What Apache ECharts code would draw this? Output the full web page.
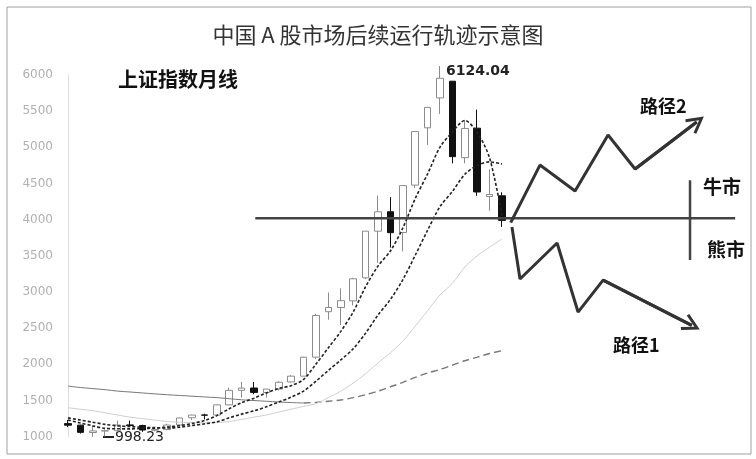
<!DOCTYPE html>
<html><head><meta charset="utf-8">
<script src="https://cdn.jsdelivr.net/npm/echarts@6/dist/echarts.min.js"></script>
<style>html,body{margin:0;padding:0;background:#fff}#c{width:756px;height:459px}</style>
</head><body><div id="c"></div>
<script>
// Monthly candles, Shanghai Composite
const months = ['2005-04','2005-05','2005-06','2005-07','2005-08','2005-09','2005-10','2005-11','2005-12',
  '2006-01','2006-02','2006-03','2006-04','2006-05','2006-06','2006-07','2006-08','2006-09','2006-10','2006-11','2006-12',
  '2007-01','2007-02','2007-03','2007-04','2007-05','2007-06','2007-07','2007-08','2007-09','2007-10','2007-11','2007-12',
  '2008-01','2008-02','2008-03'];
const opens  = [1181,1160,1058,1079,1083,1163,1155,1090,1099,1163,1262,1300,1300,1440,1641,1673,1610,1659,1757,1837,2100,2728,2786,2878,3196,3841,4110,3822,4478,5270,5683,5914,4857,5265,4320,4330];
const closes = [1159,1060,1080,1083,1162,1155,1092,1099,1161,1258,1299,1298,1440,1641,1672,1612,1658,1752,1837,2099,2675,2786,2881,3183,3841,4109,3820,4471,5218,5552,5955,4871,5261,4383,4348,3990];
const lows   = [1132,1043,998.23,1004,1079,1133,1067,1074,1088,1159,1231,1239,1300,1436,1541,1586,1541,1639,1750,1835,2073,2617,2542,2814,3178,3404,3615,3563,4436,5032,5462,4778,4779,4330,4123,3900];
const highs  = [1231,1165,1146,1098,1223,1224,1166,1112,1180,1262,1303,1318,1445,1678,1757,1757,1660,1767,1851,2105,2698,2994,3050,3197,3841,4335,4312,4471,5219,5559,6124.04,5914,5376,5522,4695,4380];

// Moving-average curves
const ma5  = [1230,1190,1150,1115,1110,1108,1114,1118,1134,1153,1182,1223,1291,1387,1470,1533,1605,1667,1706,1792,2004,2230,2456,2725,3073,3360,3567,3885,4292,4634,5003,5213,5371,5204,4850,4050];
const ma10 = [1260,1230,1200,1170,1150,1140,1130,1125,1120,1131,1155,1177,1205,1261,1312,1357,1414,1479,1547,1631,1768,1917,2061,2216,2432,2682,2898,3170,3508,3854,4182,4390,4628,4748,4799,4770];
const ma20 = [1400,1380,1360,1330,1300,1270,1250,1230,1210,1200,1195,1190,1195,1210,1240,1270,1300,1340,1380,1420,1457,1540,1630,1740,1872,2020,2160,2320,2528,2742,2960,3120,3345,3500,3620,3734];
const ma60Old = [1700,1680,1665,1650,1630,1618,1605,1592,1580,1570,1560,1550,1540,1525,1510,1500,1490,1480,1472,1466];
const ma60New = [1466,1475,1490,1507,1540,1580,1630,1690,1750,1820,1880,1930,1990,2050,2100,2150,2190];
const ma60NewStart = 19;

// Schematic future paths (x in month slots after the start, y in index points)
const path1X = [35.8, 36.45, 39.44, 41.13, 43.15, 50.3];
const path1Y = [3900, 3180, 3677, 2723, 3165, 2540];
const path2X = [35.7, 38.06, 40.89, 43.55, 45.73, 50.7];
const path2Y = [3960, 4755, 4396, 5170, 4700, 5350];
const baseLineX = [15.1, 53.8];
const baseLineY = 4020;
const dividerX = 50.16;
const dividerY = [3442, 4545];

const yTicks = {min: 1000, max: 6000, step: 500};
const peakLabel = '6124.04';
const lowLabel = '998.23';

const candleData = months.map((m, i) => [i, opens[i], closes[i], lows[i], highs[i]]);
const toXY = (arr, start) => arr.map((v, k) => [start + k, v]);
const zip = (xs, ys) => xs.map((x, k) => [x, ys[k]]);
const chevron = 'path://M0,0 L9,15 L6.5,16.5 L0,5.5 L-6.5,16.5 L-9,15 Z';
const cjk = '"Noto Sans CJK SC","Noto Sans CJK JP",sans-serif';

const chart = echarts.init(document.getElementById('c'), null, {renderer: 'canvas'});
chart.setOption({
  animation: false,
  backgroundColor: '#fff',
  title: {
    text: '中国 A 股市场后续运行轨迹示意图', left: 'center', top: 24, padding: 0,
    textStyle: {fontSize: 22, fontWeight: 'normal', color: '#333', fontFamily: cjk}
  },
  grid: {left: 58, right: 16, top: 75, bottom: 22.3},
  xAxis: {type: 'value', min: -0.806, max: 54.19, show: false},
  yAxis: {
    type: 'value', min: yTicks.min, max: yTicks.max, interval: yTicks.step,
    axisLine: {show: true, lineStyle: {color: '#dcdcdc', width: 1}},
    axisTick: {show: false},
    splitLine: {show: false},
    axisLabel: {color: '#b0b0b0', fontSize: 12, fontFamily: 'DejaVu Sans', margin: 5, formatter: v => String(v)}
  },
  series: [
    {type: 'line', data: toXY(ma60Old, 0), symbol: 'none', smooth: 0.3,
      lineStyle: {color: '#777', width: 1}},
    {type: 'line', data: toXY(ma60New, ma60NewStart), symbol: 'none', smooth: 0.3,
      lineStyle: {color: '#777', width: 1.4, type: [7, 4]}},
    {type: 'line', data: toXY(ma20, 0), symbol: 'none', smooth: 0.3,
      lineStyle: {color: '#cfcfcf', width: 1}},
    {type: 'line', data: toXY(ma10, 0), symbol: 'none', smooth: 0.3,
      lineStyle: {color: '#222', width: 1.6, type: [3, 2]}},
    {type: 'line', data: toXY(ma5, 0), symbol: 'none', smooth: 0.3,
      lineStyle: {color: '#222', width: 1.6, type: [3, 2]}},
    {type: 'candlestick', data: candleData, encode: {x: 0, y: [1, 2, 3, 4]},
      barWidth: 7, clip: false,
      itemStyle: {color: '#fff', color0: '#111', borderColor: '#8c8c8c', borderColor0: '#111', borderWidth: 1}
    },
    {type: 'line', data: zip(baseLineX, [baseLineY, baseLineY]), symbol: 'none',
      lineStyle: {color: '#444', width: 2.5}},
    {type: 'line', data: [[dividerX, dividerY[0]], [dividerX, dividerY[1]]], symbol: 'none',
      lineStyle: {color: '#444', width: 2.5}},
    {type: 'line', data: zip(path1X, path1Y), symbol: 'none', lineStyle: {color: '#333', width: 3}},
    {type: 'line', data: zip(path2X, path2Y), symbol: 'none', lineStyle: {color: '#333', width: 3}},
    {type: 'lines', coordinateSystem: 'cartesian2d', symbol: ['none', chevron], symbolSize: [18, 18],
      lineStyle: {color: '#333', width: 3, opacity: 1}, itemStyle: {color: '#333'},
      data: [
        {coords: [[path1X[4], path1Y[4]], [path1X[5], path1Y[5]]]},
        {coords: [[path2X[4], path2Y[4]], [path2X[5], path2Y[5]]]}
      ]}
  ],
  graphic: [
    {type: 'rect', shape: {x: 7, y: 7, width: 744, height: 447}, style: {fill: 'none', stroke: '#a0a0a0', lineWidth: 1}, silent: true},
    {type: 'text', x: 118, y: 79, style: {text: '上证指数月线', font: 'bold 20px ' + cjk, fill: '#111', verticalAlign: 'middle'}},
    {type: 'text', x: 446, y: 71, style: {text: peakLabel, font: 'bold 14px "DejaVu Sans"', fill: '#222', verticalAlign: 'middle'}},
    {type: 'line', shape: {x1: 103, y1: 437, x2: 114, y2: 437}, style: {stroke: '#222', lineWidth: 2}},
    {type: 'text', x: 115, y: 437, style: {text: lowLabel, font: '14px "DejaVu Sans"', fill: '#222', verticalAlign: 'middle'}},
    {type: 'text', x: 640, y: 106, style: {text: '路径2', font: 'bold 18px ' + cjk, fill: '#111', verticalAlign: 'middle'}},
    {type: 'text', x: 613, y: 345, style: {text: '路径1', font: 'bold 18px ' + cjk, fill: '#111', verticalAlign: 'middle'}},
    {type: 'text', x: 703, y: 187, style: {text: '牛市', font: 'bold 19px ' + cjk, fill: '#111', verticalAlign: 'middle'}},
    {type: 'text', x: 707, y: 250, style: {text: '熊市', font: 'bold 19px ' + cjk, fill: '#111', verticalAlign: 'middle'}}
  ]
});
</script>
</body></html>
